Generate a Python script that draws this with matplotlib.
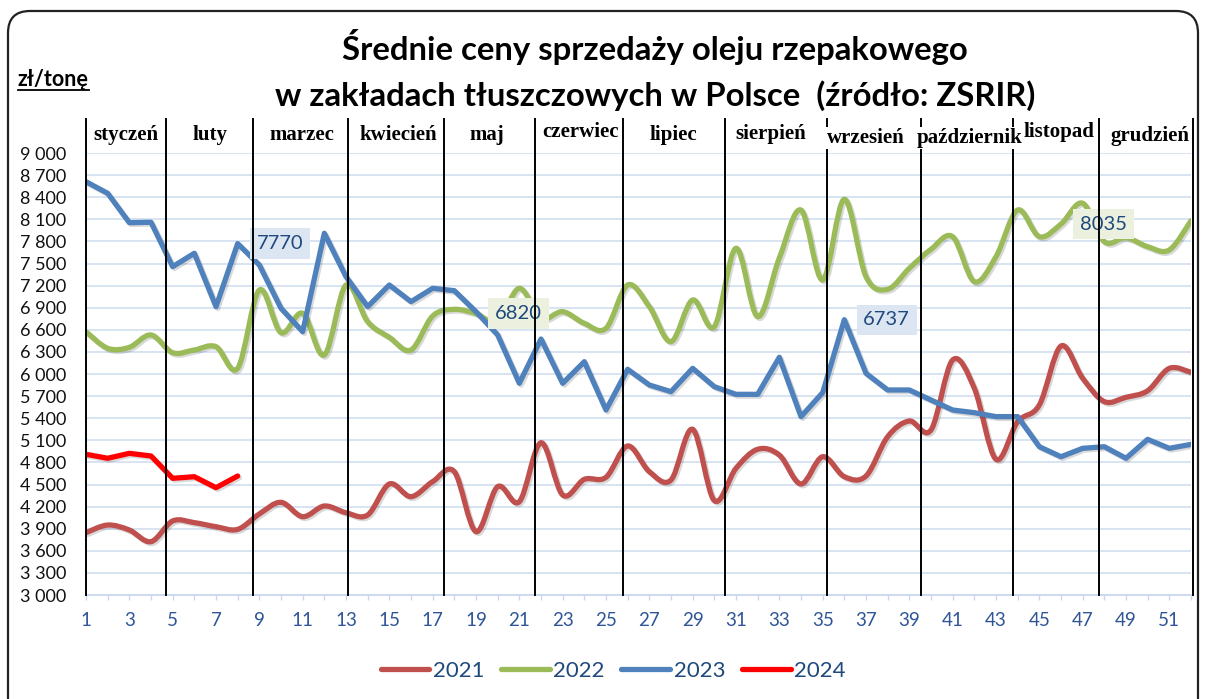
import numpy as np
import matplotlib
matplotlib.use('Agg')
import matplotlib.pyplot as plt
from matplotlib.path import Path
from matplotlib.patches import PathPatch, FancyBboxPatch
from matplotlib.lines import Line2D
from matplotlib.transforms import IdentityTransform
import matplotlib.patheffects as pe
from matplotlib.ticker import FuncFormatter

# ---------------- data ----------------
weeks = list(range(1, 53))
s2021 = [3846, 3950, 3882, 3724, 4005, 3982, 3927, 3891, 4100, 4258,
         4063, 4208, 4117, 4086, 4507, 4335, 4539, 4674, 3860, 4471,
         4267, 5067, 4358, 4570, 4598, 5023, 4674, 4561, 5249, 4281,
         4720, 4978, 4900, 4507, 4877, 4606, 4615, 5149, 5362, 5240,
         6190, 5806, 4842, 5353, 5579, 6380, 5942, 5625, 5684, 5773,
         6077, 6023]
s2022 = [6574, 6349, 6362, 6530, 6289, 6326, 6371, 6077, 7140, 6561,
         6824, 6258, 7208, 6710, 6498, 6326, 6787, 6878, 6820, 6710,
         7163, 6756, 6846, 6688, 6620, 7208, 6914, 6439, 7005, 6642,
         7706, 6778, 7575, 8226, 7276, 8372, 7321, 7150, 7435, 7693,
         7864, 7253, 7593, 8226, 7864, 8035, 8318, 7796, 7850, 7728,
         7684, 8081]
s2023 = [8610, 8453, 8054, 8060, 7457, 7639, 6914, 7770, 7480, 6892,
         6574, 7910, 7321, 6914, 7208, 6982, 7163, 7131, 6846, 6530,
         5874, 6475, 5874, 6167, 5511, 6064, 5851, 5760, 6077, 5828,
         5724, 5724, 6227, 5421, 5747, 6737, 6009, 5783, 5783, 5647,
         5511, 5475, 5421, 5421, 5013, 4877, 4991, 5013, 4856, 5113,
         4991, 5045]
s2024 = [4910, 4856, 4923, 4887, 4584, 4606, 4457, 4615]

months = ['styczeń', 'luty', 'marzec', 'kwiecień', 'maj', 'czerwiec', 'lipiec',
          'sierpień', 'wrzesień', 'październik', 'listopad', 'grudzień']
month_bounds = [1.0, 4.7, 8.7, 13.1, 17.5, 21.7, 25.8, 30.5, 35.2, 39.55, 43.77, 47.74, 52.1]

# data labels: (series name, week)
label_series = ['2023', '2022', '2023', '2022']
label_weeks = [8, 19, 36, 46]

title1 = 'Średnie ceny sprzedaży oleju rzepakowego'
title2 = 'w zakładach tłuszczowych w Polsce  (źródło: ZSRIR)'
unit_label = 'zł/tonę'

# ---------------- style ----------------
W, H = 1206, 699
col = {'2021': '#C0504D', '2022': '#9BBB59', '2023': '#4F81BD', '2024': '#FF0000'}
label_fill = {'2022': '#EBF1DE', '2023': '#DCE6F2'}
series = {'2021': s2021, '2022': s2022, '2023': s2023, '2024': s2024}
smoothed = {'2021': True, '2022': True, '2023': False, '2024': False}
SANS = ['Lato', 'DejaVu Sans']
SERIF = ['Liberation Serif', 'DejaVu Serif']
month_label_x = [2.85, 6.72, 10.97, 15.4, 19.5, 23.84, 28.1, 32.6, 37.0, 41.8, 45.9, 50.1]
month_label_dy = [0, 0, 0, 0, 0, 3, 0, 1, -3, -3, 3, -1]   # px, up positive

plt.rcParams['font.family'] = SANS

fig = plt.figure(figsize=(W / 100, H / 100), dpi=100)
fig.patch.set_facecolor('white')

x0, x1, ytop, ybot = 86, 1191, 153, 595
ax = fig.add_axes([x0 / W, 1 - ybot / H, (x1 - x0) / W, (ybot - ytop) / H])
ax.set_xlim(1, 52)
ax.set_ylim(3000, 9000)
ax.set_yticks(np.arange(3000, 9001, 300))
ax.yaxis.set_major_formatter(FuncFormatter(lambda v, p: f'{int(v):,}'.replace(',', ' ')))
ax.set_xticks(weeks)
ax.set_xticklabels([str(w) if w % 2 == 1 else '' for w in weeks])
ax.tick_params(axis='y', length=0, pad=14, labelsize=13, labelcolor='#111111')
ax.tick_params(axis='x', length=3.6, width=1.0, color='#C8D7EC', pad=9,
               labelsize=13.5, labelcolor='#2F5597')
for s in ['top', 'right', 'left']:
    ax.spines[s].set_visible(False)
ax.spines['bottom'].set_color('#C8D7EC')
ax.spines['bottom'].set_linewidth(1.2)
ax.yaxis.grid(True, color='#D5E2F2', lw=1.3)
ax.set_axisbelow(True)


def smooth_path(xs, ys):
    P = np.column_stack([xs, ys]).astype(float)
    n = len(P)
    verts = [P[0]]
    codes = [Path.MOVETO]
    for i in range(n - 1):
        p0 = P[i - 1] if i > 0 else P[i]
        p1 = P[i]
        p2 = P[i + 1]
        p3 = P[i + 2] if i + 2 < n else P[i + 1]
        c1 = p1 + (p2 - p0) / 6.0
        c2 = p2 - (p3 - p1) / 6.0
        verts += [c1, c2, p2]
        codes += [Path.CURVE4] * 3
    return Path(verts, codes)


shadow = [pe.SimpleLineShadow(offset=(1.3, -1.3), shadow_color='black', alpha=0.15), pe.Normal()]
LW = 3.8
for name in ['2021', '2022', '2023', '2024']:
    ys = series[name]
    xs = weeks[:len(ys)]
    if smoothed[name]:
        patch = PathPatch(smooth_path(xs, ys), fill=False, edgecolor=col[name], lw=LW,
                          capstyle='round', joinstyle='round', zorder=3)
        patch.set_path_effects(shadow)
        ax.add_patch(patch)
    else:
        ax.plot(xs, ys, color=col[name], lw=LW, solid_joinstyle='round',
                solid_capstyle='round', zorder=3, path_effects=shadow)

# data labels
for name, wk in zip(label_series, label_weeks):
    v = series[name][wk - 1]
    ax.annotate(f'{v}', xy=(wk, v), xytext=(19, 0), textcoords='offset pixels',
                ha='left', va='center', fontsize=14.5, color='#1F497D', zorder=5,
                bbox=dict(boxstyle='square,pad=0.33', fc=label_fill[name], ec='none'))

# month separators (on top)
for b in month_bounds:
    ax.plot([b, b], [3000, 9460], color='black', lw=1.4, clip_on=False, zorder=6)

# month names
for m, mx, dy in zip(months, month_label_x, month_label_dy):
    ax.annotate(m, xy=(mx, 9000), xytext=(0, 153 - 135 + dy), textcoords='offset pixels',
                ha='center', va='center', fontsize=15, fontweight='bold',
                family=SERIF, color='black', zorder=7, annotation_clip=False,
                bbox=dict(boxstyle='square,pad=0.05', fc='white', ec='none'))

# titles
t1 = fig.text(655 / W, 1 - 47 / H, title1, ha='center', va='center',
              fontsize=21, fontweight='bold', family=SANS)
t2 = fig.text(655 / W, 1 - 96 / H, title2, ha='center', va='center',
              fontsize=21, fontweight='bold', family=SANS)
fig.canvas.draw()
r = fig.canvas.get_renderer()
wcur = t1.get_window_extent(r).width
fs = 21 * 626 / wcur
t1.set_fontsize(fs)
t2.set_fontsize(fs)

# unit label with underline
u = fig.text(18 / W, 1 - 80 / H, unit_label, ha='left', va='center',
             fontsize=15.5, fontweight='bold', family=SANS)
fig.canvas.draw()
bb = u.get_window_extent(r)
fig.add_artist(Line2D([bb.x0, bb.x1], [H - 90, H - 90], transform=IdentityTransform(),
                      color='black', lw=1.3))

# legend
handles = [Line2D([], [], color=col[n], lw=LW, solid_capstyle='round') for n in ['2021', '2022', '2023', '2024']]
leg = fig.legend(handles, ['2021', '2022', '2023', '2024'], loc='center',
                 bbox_to_anchor=(613 / W, 1 - 671 / H), ncol=4, frameon=False,
                 fontsize=16, handlelength=2.2, handletextpad=0.15, columnspacing=0.75,
                 labelcolor='#1F497D')

# rounded outer border
fig.add_artist(FancyBboxPatch((8, -40), 1190, 728, boxstyle='round,pad=0,rounding_size=22',
                              transform=IdentityTransform(), fill=False, ec='#222222', lw=1.6))

fig.savefig('out.png', dpi=100)
